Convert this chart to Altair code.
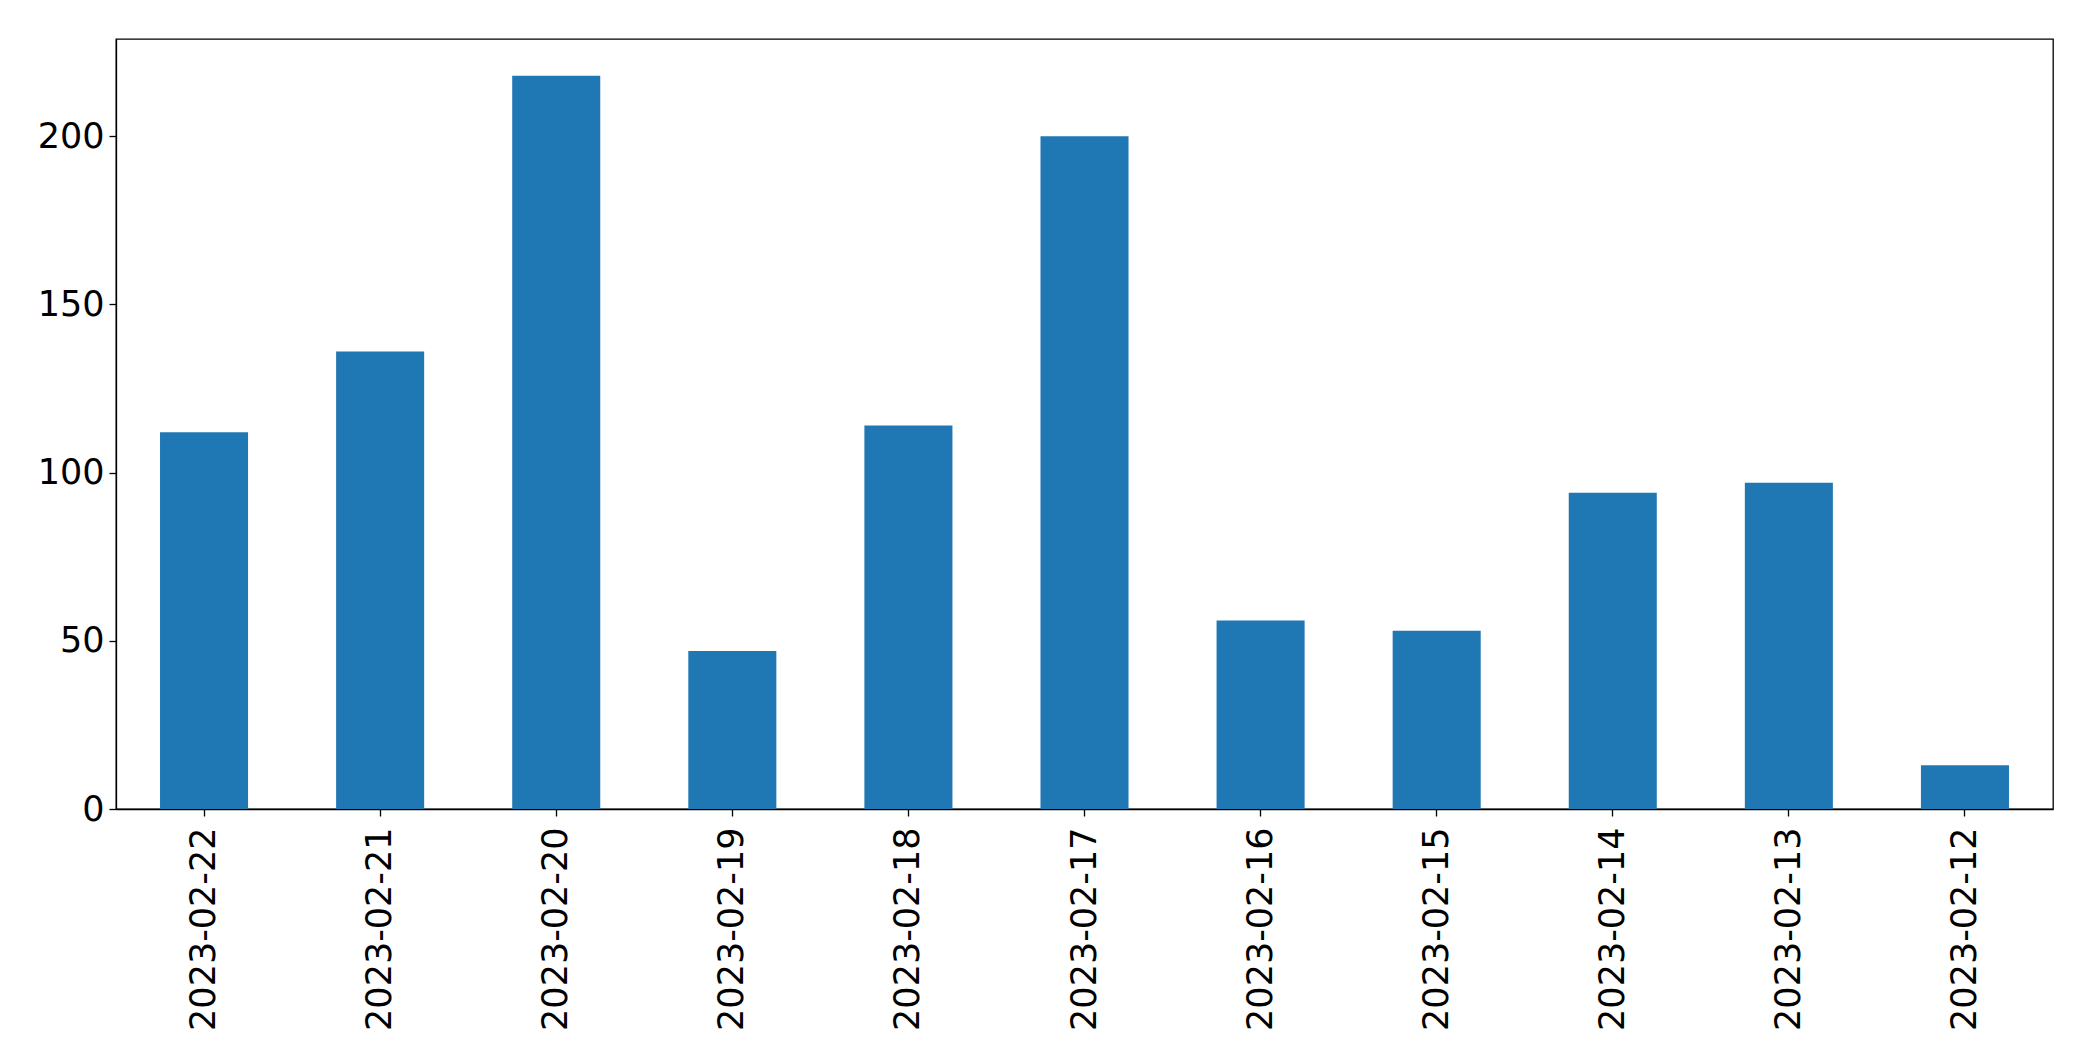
import altair as alt
import pandas as pd

dates = ["2023-02-22", "2023-02-21", "2023-02-20", "2023-02-19", "2023-02-18",
         "2023-02-17", "2023-02-16", "2023-02-15", "2023-02-14", "2023-02-13",
         "2023-02-12"]
counts = [112, 136, 218, 47, 114, 200, 56, 53, 94, 97, 13]
y_ticks = [0, 50, 100, 150, 200]

df = pd.DataFrame({"date": dates, "count": counts})

chart = alt.Chart(df).mark_bar(color="#1f77b4").encode(
    x=alt.X("date:N", sort=dates, title=None,
            scale=alt.Scale(paddingInner=0.5, paddingOuter=0.25),
            axis=alt.Axis(labelAngle=-90, labelFontSize=35, labelFont="DejaVu Sans",
                          labelColor="black", tickColor="black", tickSize=7,
                          tickWidth=1.3, domainColor="black", domainWidth=1.3,
                          labelPadding=11, labelLimit=500)),
    y=alt.Y("count:Q", title=None,
            scale=alt.Scale(domain=[0, 228.9], nice=False, zero=True),
            axis=alt.Axis(values=y_ticks, grid=False, labelFontSize=35,
                          labelFont="DejaVu Sans", labelColor="black",
                          tickColor="black", tickSize=7, tickWidth=1.3,
                          domainColor="black", domainWidth=1.3, labelPadding=5,
                          labelLimit=500)),
).properties(
    width=1937, height=770,
    autosize=alt.AutoSizeParams(type="none"),
    padding={"left": 108, "top": 31, "right": 20, "bottom": 230},
).configure_view(stroke="black", strokeWidth=1.3)

chart.save("out.html", embed_options={"renderer": "svg", "actions": False})
